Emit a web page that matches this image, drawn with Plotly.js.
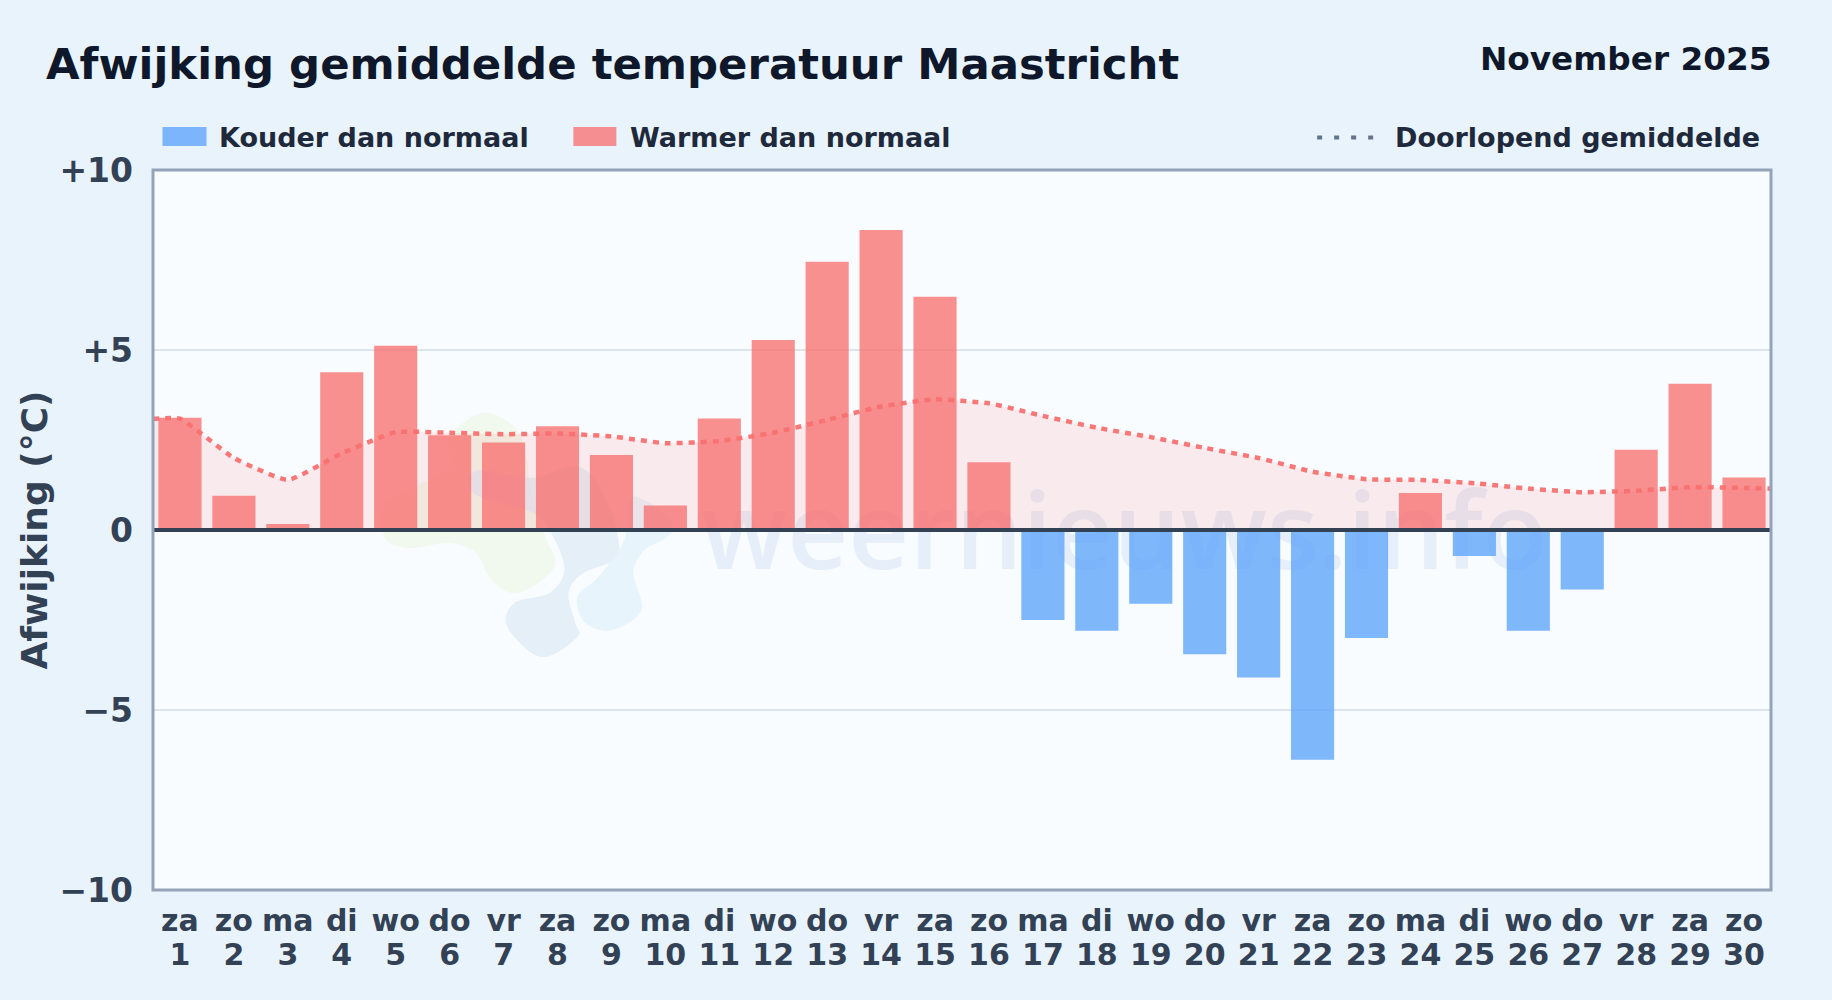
<!DOCTYPE html>
<html><head><meta charset="utf-8">
<script src="https://cdn.plot.ly/plotly-3.0.1.min.js"></script>
<style>html,body{margin:0;padding:0;background:#e8f3fc}#chart{width:1832px;height:1000px}</style>
</head><body><div id="chart"></div>
<script>
const weekdays=["za","zo","ma","di","wo","do","vr","za","zo","ma","di","wo","do","vr","za","zo","ma","di","wo","do","vr","za","zo","ma","di","wo","do","vr","za","zo"];
const days=[1,2,3,4,5,6,7,8,9,10,11,12,13,14,15,16,17,18,19,20,21,22,23,24,25,26,27,28,29,30];
const anomaly=[3.12,0.95,0.17,4.38,5.12,2.63,2.43,2.88,2.08,0.68,3.1,5.28,7.45,8.33,6.48,1.88,-2.5,-2.8,-2.05,-3.45,-4.1,-6.38,-3.0,1.03,-0.72,-2.8,-1.65,2.23,4.06,1.46];
const runningMean=[3.09,2.0,1.39,2.13,2.72,2.7,2.66,2.68,2.6,2.41,2.47,2.7,3.06,3.43,3.63,3.52,3.17,2.84,2.58,2.28,2.0,1.62,1.41,1.39,1.3,1.15,1.05,1.09,1.19,1.17];
const meanEdgeX=[-0.5,...days.map((d,i)=>i),29.5];
const meanEdgeY=[3.09,...runningMean,1.15];
const yTicks=[10,5,0,-5,-10];
const yLabels=["+10","+5","0","−5","−10"];
const FONT='"DejaVu Sans",sans-serif';
const idx=days.map((d,i)=>i);
const L=152.5,W=1618.5,B=890,H=720;
const X=v=>(v-L)/W, Y=v=>(B-v)/H;
function blob(p){ // closed smooth outline through logo outline pixels
 const n=p.length;let s="M "+X(p[0][0])+" "+Y(p[0][1]);
 for(let i=0;i<n;i++){const a=p[(i-1+n)%n],b=p[i],c=p[(i+1)%n],d=p[(i+2)%n];
  const c1=[b[0]+(c[0]-a[0])/6,b[1]+(c[1]-a[1])/6],c2=[c[0]-(d[0]-b[0])/6,c[1]-(d[1]-b[1])/6];
  s+=" C "+X(c1[0])+" "+Y(c1[1])+" "+X(c2[0])+" "+Y(c2[1])+" "+X(c[0])+" "+Y(c[1]);}
 return s+" Z";}
const logoGreen=[[482,413],[514,427],[526,457],[530,490],[545,537],[554,567],[518,593],[491,580],[476,553],[449,543],[407,548],[384,537],[385,505],[415,487],[449,467],[449,437]];
const logoBlue=[[480,470],[530,478],[579,467],[606,500],[618,540],[614,560],[583,573],[568,593],[575,623],[577,637],[541,657],[507,627],[514,603],[549,593],[564,570],[553,537],[533,513],[480,497],[468,483]];
const logoSky=[[612,630],[641,610],[633,573],[644,550],[667,537],[671,520],[644,500],[629,500],[624,540],[598,577],[577,597],[585,623]];
const traces=[
 {type:"scatter",mode:"none",x:meanEdgeX,y:meanEdgeY,fill:"tozeroy",fillcolor:"rgba(248,113,113,0.13)",hoverinfo:"skip",line:{shape:"spline",smoothing:0.4}},
 {type:"bar",x:idx,y:anomaly,marker:{color:anomaly.map(v=>v<0?"rgba(96,165,250,0.8)":"rgba(248,113,113,0.78)"),line:{width:0}},width:0.8},
 {type:"scatter",mode:"lines",x:meanEdgeX,y:meanEdgeY,line:{color:"rgba(248,113,113,0.95)",width:4.5,dash:"6px,6px",shape:"spline",smoothing:0.4},hoverinfo:"skip"},
 {type:"scatter",mode:"none",xaxis:"x2",x:idx,y:idx.map(()=>0),hoverinfo:"skip"}
];
function swatch(x0,x1,color){return {type:"rect",xref:"paper",yref:"paper",x0:X(x0),x1:X(x1),y0:Y(146),y1:Y(127),fillcolor:color,line:{width:0}}}
function ann(x,y,text,size,color,anchor){return {xref:"paper",yref:"paper",x:X(x),y:Y(y),text,showarrow:false,xanchor:anchor||"left",yanchor:"middle",align:anchor||"left",font:{family:FONT,size,color,weight:700}}}
const shapes=[
 {type:"path",xref:"paper",yref:"paper",layer:"below",fillcolor:"rgba(236,245,225,0.6)",line:{width:0},path:blob(logoGreen)},
 {type:"path",xref:"paper",yref:"paper",layer:"below",fillcolor:"rgba(226,236,246,0.85)",line:{width:0},path:blob(logoBlue)},
 {type:"path",xref:"paper",yref:"paper",layer:"below",fillcolor:"rgba(229,243,252,0.9)",line:{width:0},path:blob(logoSky)},
 {type:"rect",xref:"paper",yref:"paper",layer:"below",x0:X(684),x1:X(1564),y0:Y(600),y1:Y(470),fillcolor:"rgba(0,0,0,0)",line:{width:0},
  label:{text:"weernieuws.info",font:{family:'"Open Sans",sans-serif',size:106,color:"rgba(170,198,228,0.24)",weight:600},textposition:"middle center"}},
 {type:"line",xref:"paper",yref:"y",x0:0,x1:1,y0:0,y1:0,line:{color:"#334155",width:4}},
 {type:"rect",xref:"paper",yref:"paper",x0:0,x1:1,y0:0,y1:1,fillcolor:"rgba(0,0,0,0)",line:{color:"#94a3b8",width:3}},
 swatch(162,206,"rgba(96,165,250,0.8)"),
 swatch(573,616,"rgba(248,113,113,0.78)"),
 {type:"line",xref:"paper",yref:"paper",x0:X(1317),x1:X(1376),y0:Y(137.5),y1:Y(137.5),line:{color:"#64748b",width:4,dash:"5px,12px"}}
];
const annotations=[
 ann(43,64,"Afwijking gemiddelde temperatuur Maastricht",43.4,"#0f172a"),
 ann(1773,59,"November 2025",32.7,"#0f172a","right"),
 ann(216.5,137.5,"Kouder dan normaal",27,"#1e293b"),
 ann(627.5,137.5,"Warmer dan normaal",27,"#1e293b"),
 ann(1762,137.5,"Doorlopend gemiddelde",27,"#1e293b","right")
];
const tickFont={family:FONT,size:30,color:"#334155",weight:700};
const layout={
 width:1832,height:1000,margin:{l:L,r:1832-L-W,t:B-H,b:1000-B},
 paper_bgcolor:"rgba(0,0,0,0)",plot_bgcolor:"#f8fcff",showlegend:false,barmode:"overlay",
 xaxis:{range:[-0.5,29.5],tickmode:"array",tickvals:idx,ticktext:weekdays,tickfont:tickFont,ticks:"",showgrid:false,zeroline:false,showline:false,tickangle:0,automargin:false,ticklabelstandoff:10},
 xaxis2:{overlaying:"x",anchor:"y",side:"bottom",range:[-0.5,29.5],tickmode:"array",tickvals:idx,ticktext:days.map(String),tickfont:tickFont,ticks:"",showgrid:false,zeroline:false,showline:false,tickangle:0,automargin:false,ticklabelstandoff:44},
 yaxis:{range:[-10,10],tickmode:"array",tickvals:yTicks,ticktext:yLabels,tickfont:{family:FONT,size:33,color:"#334155",weight:700},ticks:"",showgrid:true,gridcolor:"#dde5ec",gridwidth:2,zeroline:false,showline:false,automargin:false,ticklabelstandoff:19,
  title:{text:"Afwijking (°C)",font:{family:FONT,size:36,color:"#334155",weight:700},standoff:0}},
 shapes,annotations
};
Plotly.newPlot("chart",traces,layout,{displayModeBar:false,staticPlot:true});
</script></body></html>
